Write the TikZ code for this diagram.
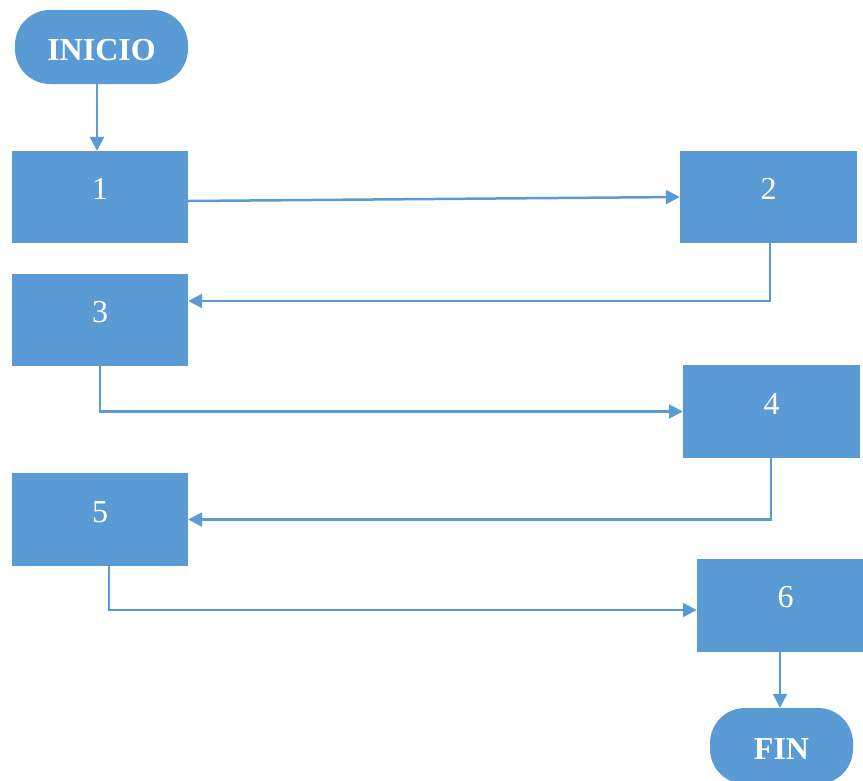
\documentclass[tikz,border=0pt]{standalone}
\usepackage{fontspec}
\setmainfont{Liberation Serif}
\usetikzlibrary{arrows.meta}
\definecolor{flowblue}{HTML}{5B9BD5}
\tikzset{
  stepbox/.style={fill=flowblue, draw=none, inner sep=0pt, text=white,
    minimum width=#1, minimum height=92pt,
    font=\fontsize{32}{32}\selectfont, text height=22pt, text depth=17pt},
  stepbox/.default=176pt,
  terminal/.style={fill=flowblue, draw=none, inner sep=0pt, text=white,
    rounded corners=35pt, font=\fontsize{32}{32}\selectfont\bfseries,
    text height=26pt, text depth=0pt},
  flow/.style={draw=flowblue, line width=2.5pt,
    -{Triangle[length=14pt,width=14pt]}},
}
\begin{document}
\begin{tikzpicture}[x=1pt,y=-1pt]
  \useasboundingbox (0,0) rectangle (863,780);

  % terminals
  \node[terminal, minimum width=173pt, minimum height=74pt] (ini) at (101.5,47) {INICIO};
  \node[terminal, minimum width=143pt, minimum height=76pt] (fin) at (781.5,746) {FIN};

  % process steps
  \node[stepbox] (b1) at (100,197) {1};
  \node[stepbox=177pt] (b2) at (768.5,197) {2};
  \node[stepbox] (b3) at (100,320) {3};
  \node[stepbox=177pt, minimum height=93pt] (b4) at (771.5,411.5) {4};
  \node[stepbox, minimum height=93pt] (b5) at (100,519.5) {5};
  \node[stepbox=177pt, minimum height=93pt] (b6) at (785.5,605) {6};

  % connectors
  \draw[flow] ([xshift=-4.5pt]ini.south) -- ([xshift=-3pt]b1.north);
  \draw[flow] ([yshift=-4pt]b1.east) -- (b2.west);
  \draw[flow] ([xshift=1.5pt]b2.south) |- ([yshift=19pt]b3.east);
  \draw[flow] (b3.south) |- (b4.west);
  \draw[flow] ([xshift=-0.5pt]b4.south) |- (b5.east);
  \draw[flow] ([xshift=9pt]b5.south) |- ([yshift=-5pt]b6.west);
  \draw[flow] ([xshift=-5.5pt]b6.south) -- ([xshift=-1.5pt]fin.north);
\end{tikzpicture}
\end{document}
